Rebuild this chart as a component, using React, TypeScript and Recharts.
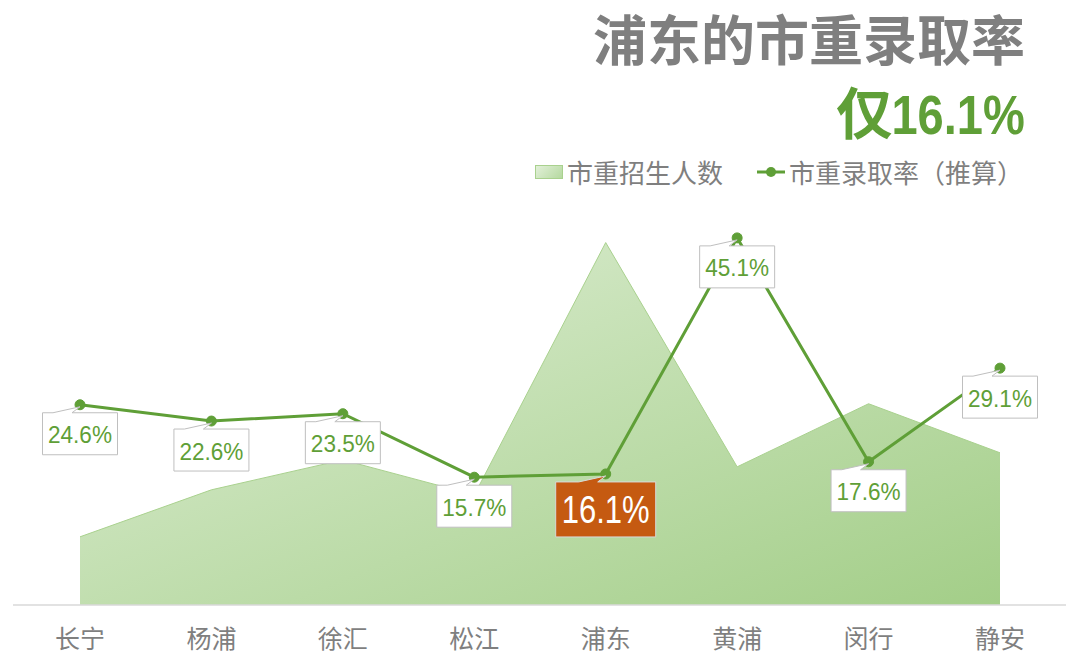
import React from "react";
import { ComposedChart, Area, Line, XAxis, YAxis } from "recharts";

// 区名 / 市重招生人数 / 市重录取率（推算，%）
const districts = ["长宁", "杨浦", "徐汇", "松江", "浦东", "黄浦", "闵行", "静安"];
const enrolment = [335, 566, 713, 541, 1781, 679, 989, 748];
const admitRate = [24.6, 22.6, 23.5, 15.7, 16.1, 45.1, 17.6, 29.1];
const highlight = "浦东";

const GREEN = "#5f9f37";
const GREY = "#7f7f7f";
const ORANGE = "#c55a11";
const CJK = "'Noto Sans CJK SC', 'Noto Sans', sans-serif";
const NUM = "'Liberation Sans', Arial, sans-serif";

const data = districts.map((name, i) => ({
  name,
  enrolment: enrolment[i],
  rate: admitRate[i],
}));

// callout-style data label under each point
function RateLabel(props: any) {
  const { x, y, value, index } = props;
  const hot = districts[index] === highlight;
  const w = hot ? 100 : 75;
  const h = hot ? 55 : 42;
  const left = x - w / 2;
  const top = y + 8;
  const d = [
    `M${left},${top}`,
    `L${x - 27},${top}`,
    `L${x},${y + 2}`,
    `L${x - 8},${top}`,
    `L${left + w},${top}`,
    `L${left + w},${top + h}`,
    `L${left},${top + h}`,
    "Z",
  ].join(" ");
  return (
    <g>
      <path d={d} fill={hot ? ORANGE : "#fff"} stroke={hot ? "#d9d9d9" : "#bfbfbf"} strokeWidth={1} />
      <text
        x={x}
        y={top + h / 2 + 1}
        textAnchor="middle"
        dominantBaseline="central"
        fill={hot ? "#fff" : GREEN}
        fontFamily={NUM}
        fontSize={hot ? 38 : 24}
        textLength={hot ? 88 : 64}
        lengthAdjust="spacingAndGlyphs"
      >
        {`${value.toFixed(1)}%`}
      </text>
    </g>
  );
}

function DistrictTick(props: any) {
  const { x, y, payload } = props;
  return (
    <text x={x} y={y} dy={24} textAnchor="middle" dominantBaseline="central" fill={GREY} fontFamily={CJK} fontSize={25}>
      {payload.value}
    </text>
  );
}

export default function App() {
  return (
    <div style={{ position: "absolute", left: 0, top: 0, width: 1080, height: 661, background: "#fff", fontFamily: CJK }}>
      {/* title block */}
      <div
        style={{
          position: "absolute",
          right: 55,
          top: 6,
          fontSize: 54,
          fontWeight: 700,
          color: GREY,
          lineHeight: "64px",
          whiteSpace: "nowrap",
        }}
      >
        浦东的市重录取率
      </div>
      <div
        style={{
          position: "absolute",
          right: 55,
          top: 78,
          fontSize: 56,
          fontWeight: 700,
          color: GREEN,
          lineHeight: "64px",
          whiteSpace: "nowrap",
        }}
      >
        仅
        <span
          style={{
            display: "inline-block",
            fontFamily: NUM,
            transform: "scaleX(0.84)",
            transformOrigin: "right center",
            marginLeft: -26,
          }}
        >
          16.1%
        </span>
      </div>

      {/* legend */}
      <div
        style={{
          position: "absolute",
          right: 57,
          top: 156,
          display: "flex",
          alignItems: "center",
          fontSize: 26,
          color: GREY,
          whiteSpace: "nowrap",
          lineHeight: "32px",
        }}
      >
        <span
          style={{
            display: "inline-block",
            width: 26,
            height: 12,
            border: "1px solid #a9d18e",
            background: "linear-gradient(135deg, #e2f0d9, #b5d9a0)",
            marginRight: 4,
          }}
        />
        <span>市重招生人数</span>
        <svg width={28} height={14} style={{ marginLeft: 34, marginRight: 4 }}>
          <line x1={0} y1={7} x2={28} y2={7} stroke={GREEN} strokeWidth={3} />
          <circle cx={14} cy={7} r={5} fill={GREEN} />
        </svg>
        <span>市重录取率（推算）</span>
      </div>

      <ComposedChart width={1080} height={661} data={data} margin={{ top: 198, right: 14, bottom: 0, left: 13 }}>
        <defs>
          <linearGradient id="areaFill" x1="0" y1="0" x2="1" y2="1">
            <stop offset="0%" stopColor="#e0efd7" />
            <stop offset="100%" stopColor="#a3ce88" />
          </linearGradient>
        </defs>
        <XAxis
          dataKey="name"
          height={56}
          padding={{ left: 67, right: 66 }}
          axisLine={{ stroke: "#d9d9d9", strokeWidth: 1.5 }}
          tickLine={false}
          tick={<DistrictTick />}
          interval={0}
        />
        <YAxis yAxisId="count" hide domain={[0, 2000]} />
        <YAxis yAxisId="rate" hide domain={[0, 50]} />
        <Area
          yAxisId="count"
          type="linear"
          dataKey="enrolment"
          fill="url(#areaFill)"
          fillOpacity={1}
          stroke="#a9d18e"
          strokeWidth={1}
          isAnimationActive={false}
        />
        <Line
          yAxisId="rate"
          type="linear"
          dataKey="rate"
          stroke={GREEN}
          strokeWidth={3}
          dot={{ r: 5, fill: GREEN, stroke: GREEN, strokeWidth: 1 }}
          label={<RateLabel />}
          isAnimationActive={false}
        />
      </ComposedChart>
    </div>
  );
}
